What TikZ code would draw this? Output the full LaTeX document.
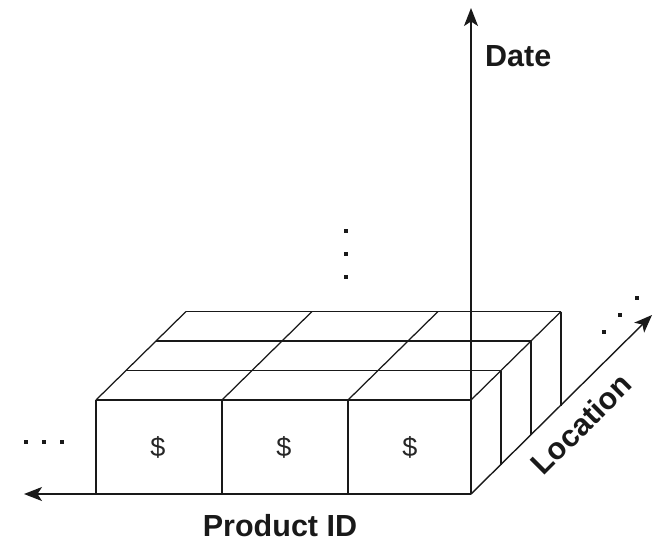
\documentclass[tikz,border=0pt]{standalone}
\usepackage{fontspec}
\setmainfont{Liberation Sans}
\usetikzlibrary{arrows.meta}
\begin{document}
\begin{tikzpicture}[x=1pt,y=-1pt,
  line join=round,
  boxline/.style={draw=black!90, line width=1.25pt},
  axis/.style={draw=black!90, line width=1.4pt, -{Stealth[length=18pt,width=14pt,inset=4.5pt]}},
  axislabel/.style={font=\fontsize{30.5}{30.5}\selectfont\bfseries, inner sep=0pt, text=black!90},
  cellval/.style={font=\fontsize{27}{27}\selectfont, inner sep=0pt, text=black!85},
  dot/.style={fill=black!90, draw=none, minimum size=3.8pt, inner sep=0pt, rectangle}]
\useasboundingbox (0,0) rectangle (660,542);
% origin of the axes (front bottom right corner)
\coordinate (O) at (471,494);
\coordinate (Dtip) at (471,8);
\coordinate (Ptip) at (24,494);
\coordinate (Ltip) at (652,315);
% top grid lines (parallel to product axis)
\foreach \k in {0,1,2,3}{
  \draw[boxline] ({96+30*\k},{400-29.5*\k}) -- ({471+30*\k},{400-29.5*\k});
}
% depth lines on top
\foreach \x in {96,222,348,471}{
  \draw[boxline] (\x,400) -- ({\x+90},311.5);
}
% front face cells
\foreach \x in {96,222,348}{
  \draw[boxline] (\x,400) -- (\x,494);
}
\draw[boxline] (471,400) -- (471,494);
% right side verticals
\foreach \k in {1,2,3}{
  \draw[boxline] ({471+30*\k},{400-29.5*\k}) -- ({471+30*\k},{494-29.5*\k});
}
% cell values
\node[cellval] (c1) at (158,447) {\$};
\node[cellval] (c2) at (284,447) {\$};
\node[cellval] (c3) at (410,447) {\$};
% axes
\draw[axis] (O) -- (Dtip);
\draw[axis] (O) -- (Ptip);
\draw[axis] (O) -- (Ltip);
% labels
\node[axislabel, anchor=west] (date) at (485,56) {Date};
\node[axislabel] (prod) at (280,526) {Product ID};
\node[axislabel, rotate=45] (loc) at (581,424) {Location};
% continuation dots
\node[dot] (l1) at (26,442) {};
\node[dot] (l2) at (44,442) {};
\node[dot] (l3) at (62,442) {};
\node[dot] (v1) at (346,231) {};
\node[dot] (v2) at (346,254) {};
\node[dot] (v3) at (346,277) {};
\node[dot] (g1) at (604,332) {};
\node[dot] (g2) at (620,315) {};
\node[dot] (g3) at (637,298) {};
\end{tikzpicture}
\end{document}
